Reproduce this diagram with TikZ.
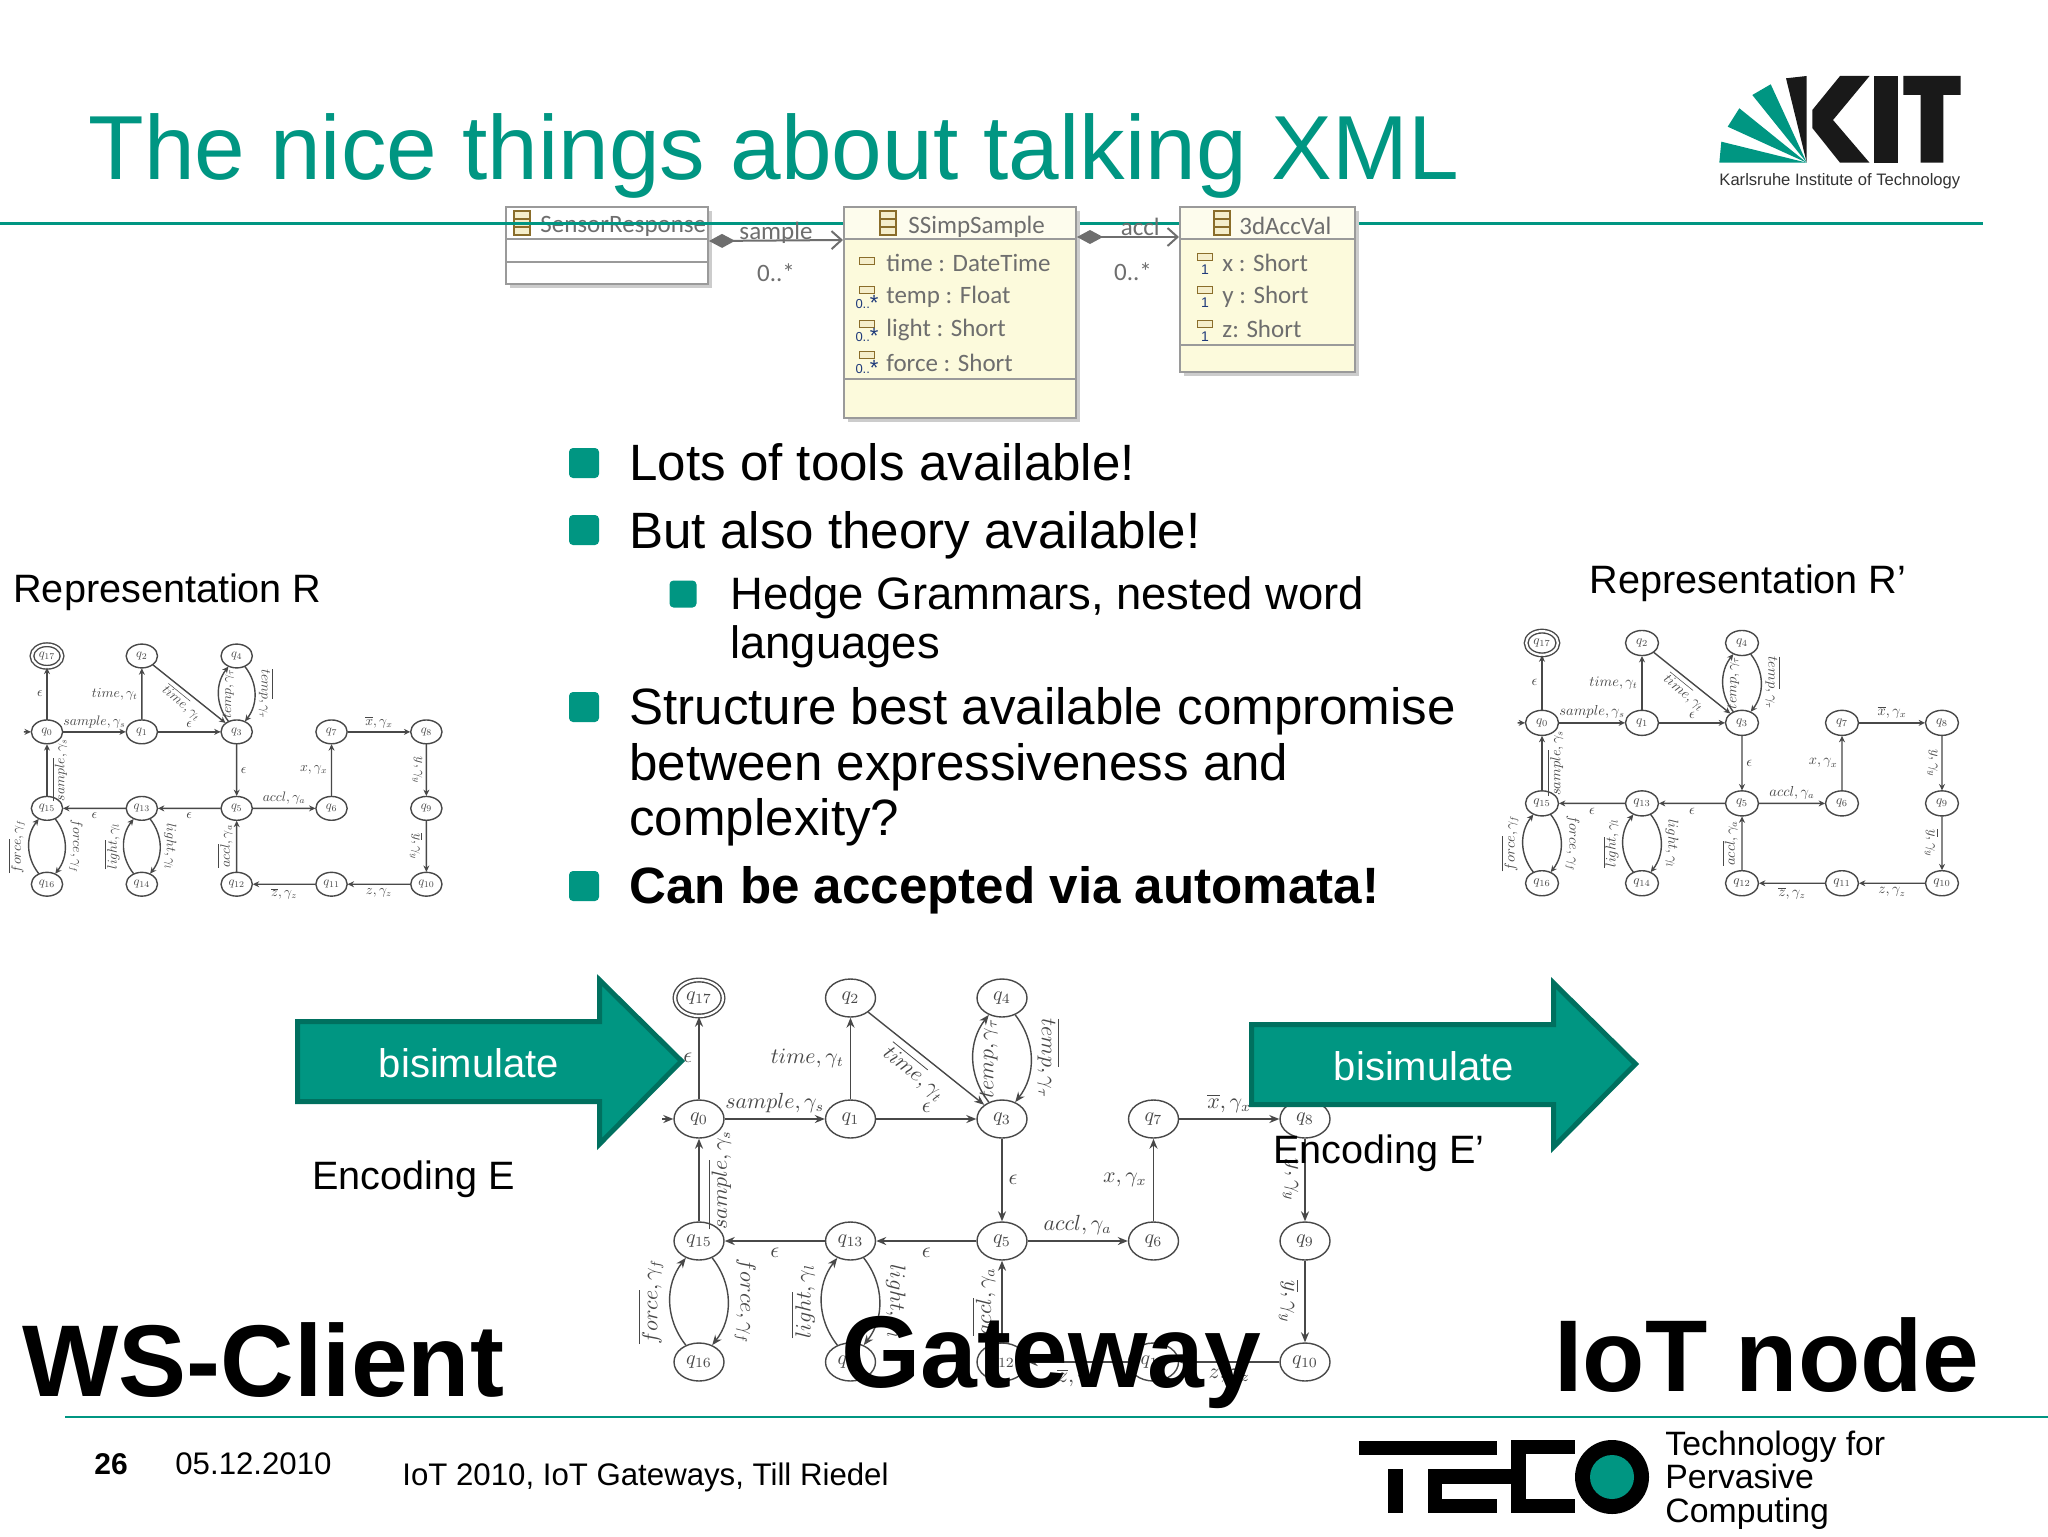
\documentclass[tikz,border=0pt]{standalone}
\usepackage[no-math]{fontspec}
\setmainfont{Liberation Sans}
\newfontfamily\umlfont{Carlito}
\usetikzlibrary{shapes.geometric,arrows.meta,shapes.misc}
\definecolor{kitgreen}{HTML}{009682}
\definecolor{kitdark}{HTML}{00705F}
\definecolor{autoink}{HTML}{484848}
\definecolor{umlink}{HTML}{6E6E6E}
\definecolor{umlborder}{HTML}{9A9A9A}
\definecolor{umlfill}{HTML}{FCFADC}
\definecolor{navyink}{HTML}{1F3A7A}
\definecolor{iconfill}{HTML}{F5EECB}
\definecolor{iconline}{HTML}{8A6D2A}
\newcommand{\fsz}[1]{\fontsize{#1}{#1}\selectfont}
\newcommand{\zerostar}{0..\raisebox{-1.2pt}{\fsz{11}*}}
\tikzset{
  txt/.style={anchor=base west,inner sep=0pt,text=black},
  bodytxt/.style={txt,font=\fsz{25.55}},
  subtxt/.style={txt,font=\fsz{22.7}},
  midtxt/.style={txt,font=\fsz{19.8}},
  bigtxt/.style={txt,font=\fsz{51}\bfseries},
  foot/.style={txt,font=\fsz{15.6}},
  bullet/.style={rectangle,rounded corners=2pt,fill=kitgreen,inner sep=0pt,minimum width=15pt,minimum height=15pt},
  subbullet/.style={rectangle,rounded corners=2pt,fill=kitgreen,inner sep=0pt,minimum width=13.5pt,minimum height=13.5pt},
  fatarrow/.style={fill=kitgreen,draw=kitdark,line width=2.5pt,miter limit=10},
  white label/.style={text=white,font=\fsz{20},inner sep=0pt},
  state/.style={ellipse,draw=autoink,line width=.7pt,minimum width=25pt,minimum height=19pt,inner sep=0pt,text=autoink,font=\fsz{10}},
  lbl/.style={text=autoink,font=\fsz{10.5},inner sep=3pt},
  umlclass/.style={rectangle,draw=umlborder,line width=1pt,inner sep=0pt},
  umlshadow/.style={fill=black!20,draw=none},
  umltext/.style={anchor=west,inner sep=0pt,text=umlink,font=\umlfont\fsz{12.5}},
  umlmult/.style={text=umlink,inner sep=0pt,font=\umlfont\fsz{12.5}},
  attricon/.style={rectangle,draw=iconline,fill=iconfill,line width=.6pt,minimum width=7.5pt,minimum height=3.8pt,inner sep=0pt},
  tinymult/.style={text=navyink,inner sep=0pt,font=\fsz{6.5}},
  compo/.style={draw=umlink,line width=1pt,{Diamond[length=13pt,width=7pt,fill=umlink]}-{Straight Barb[length=5pt,width=9pt]}},
}
\newcommand{\classicon}[3]{%
  \draw[draw=iconline,fill=iconfill,line width=.6pt] (#1,#2) rectangle ++(16,8);
  \draw[draw=iconline,fill=iconfill,line width=.6pt] (#1,#2+8) rectangle ++(16,8);
  \draw[draw=iconline,fill=iconfill,line width=.6pt] (#1,#2+16) rectangle ++(16,8);
}
% name prefix, x, y, xscale, yscale, tip length, tip width
\newcommand{\automaton}[7]{%
\begin{scope}[shift={(#2,#3)},xscale=#4,yscale=#5,transform shape,
    every edge/.style={draw=autoink,line width=.7pt,-{Stealth[length=#6,width=#7]}}]
  \node[state,double,double distance=1.1pt,minimum width=24pt,minimum height=18pt] (#1q17) at (0,0) {$q_{17}$};
  \node[state] (#1q2) at (151.5,0) {$q_{2}$};
  \node[state] (#1q4) at (303,0) {$q_{4}$};
  \node[state] (#1q0) at (0,121) {$q_{0}$};
  \node[state] (#1q1) at (151.5,121) {$q_{1}$};
  \node[state] (#1q3) at (303,121) {$q_{3}$};
  \node[state] (#1q7) at (454.5,121) {$q_{7}$};
  \node[state] (#1q8) at (606,121) {$q_{8}$};
  \node[state] (#1q15) at (0,243) {$q_{15}$};
  \node[state] (#1q13) at (151.5,243) {$q_{13}$};
  \node[state] (#1q5) at (303,243) {$q_{5}$};
  \node[state] (#1q6) at (454.5,243) {$q_{6}$};
  \node[state] (#1q9) at (606,243) {$q_{9}$};
  \node[state] (#1q16) at (0,364) {$q_{16}$};
  \node[state] (#1q14) at (151.5,364) {$q_{14}$};
  \node[state] (#1q12) at (303,364) {$q_{12}$};
  \node[state] (#1q11) at (454.5,364) {$q_{11}$};
  \node[state] (#1q10) at (606,364) {$q_{10}$};
  \coordinate (#1init) at (-37,121);
  \path (#1init) edge (#1q0)
    (#1q0) edge node[lbl,left] {$\epsilon$} (#1q17)
    (#1q0) edge node[lbl,above] {$sample,\gamma_s$} (#1q1)
    (#1q1) edge node[lbl,left] {$time,\gamma_t$} (#1q2)
    (#1q1) edge node[lbl,above] {$\epsilon$} (#1q3)
    (#1q2) edge node[lbl,rotate=-39,anchor=north] {$\overline{time},\gamma_t$} (#1q3)
    (#1q3) edge[bend left=38] node[lbl,rotate=90,anchor=north] {$temp,\gamma_\tau$} (#1q4)
    (#1q4) edge[bend left=38] node[lbl,rotate=-90,anchor=south] {$\overline{temp},\gamma_\tau$} (#1q3)
    (#1q3) edge node[lbl,right] {$\epsilon$} (#1q5)
    (#1q5) edge node[lbl,above] {$accl,\gamma_a$} (#1q6)
    (#1q6) edge node[lbl,left] {$x,\gamma_x$} (#1q7)
    (#1q7) edge node[lbl,above] {$\overline{x},\gamma_x$} (#1q8)
    (#1q8) edge node[lbl,rotate=-90,anchor=north] {$y,\gamma_y$} (#1q9)
    (#1q9) edge node[lbl,rotate=-90,anchor=north] {$\overline{y},\gamma_y$} (#1q10)
    (#1q10) edge node[lbl,below] {$z,\gamma_z$} (#1q11)
    (#1q11) edge node[lbl,below] {$\overline{z},\gamma_z$} (#1q12)
    (#1q12) edge node[lbl,rotate=90,anchor=south] {$\overline{accl},\gamma_a$} (#1q5)
    (#1q5) edge node[lbl,below] {$\epsilon$} (#1q13)
    (#1q13) edge node[lbl,below] {$\epsilon$} (#1q15)
    (#1q13) edge[bend left=38] node[lbl,rotate=-90,anchor=south] {$light,\gamma_l$} (#1q14)
    (#1q14) edge[bend left=38] node[lbl,rotate=90,anchor=south] {$\overline{light},\gamma_l$} (#1q13)
    (#1q15) edge node[lbl,rotate=90,anchor=north,inner sep=4pt] {$\overline{sample},\gamma_s$} (#1q0)
    (#1q15) edge[bend left=38] node[lbl,rotate=-90,anchor=south] {$force,\gamma_f$} (#1q16)
    (#1q16) edge[bend left=38] node[lbl,rotate=90,anchor=south] {$\overline{force},\gamma_f$} (#1q15);
\end{scope}}
\begin{document}
\begin{tikzpicture}[x=0.5pt,y=-0.5pt]
\useasboundingbox (0,0) rectangle (2048,1536);
\fill[white] (0,0) rectangle (2048,1536);

% automata
\automaton{l}{47}{656}{0.626}{0.627}{3.2pt}{3pt}
\automaton{r}{1542}{643}{0.66}{0.66}{3.2pt}{3pt}
\automaton{m}{699}{998}{1}{1}{5pt}{4pt}

% title and rules
\node[txt,text=kitgreen,font=\fsz{45.5}] (title) at (88,179) {The nice things about talking XML};

% UML: SensorResponse goes beneath the rule
\fill[umlshadow] (510,211) rectangle (712,288);
\node[umlclass,fill=white,minimum width=101pt,minimum height=38.5pt] (sr) at (607,245.5) {};
\draw[umlborder,line width=.8pt] (506,239) -- (708,239) (506,262) -- (708,262);
\classicon{514}{211}{}
\node[umltext,text=umlink] (srname) at (540,226) {SensorResponse};

\draw[kitgreen,line width=1.4pt] (0,223.5) -- (1983,223.5);
\draw[kitgreen,line width=1.4pt] (65,1417) -- (2048,1417);

\fill[umlshadow] (848,211) rectangle (1080,422);
\node[umlclass,fill=white,minimum width=116pt,minimum height=105.5pt] (ss) at (960,312.5) {};
\fill[white!50!umlfill] (844.5,207.5) rectangle (1075.5,239);
\fill[umlfill] (844.5,239) rectangle (1075.5,417.5);
\draw[umlborder,line width=.8pt] (844,239) -- (1076,239) (844,379) -- (1076,379);
\draw[umlborder,line width=1pt] (844,207) rectangle (1076,418);
\classicon{880}{211}{}
\node[umltext] (ssname) at (908,227) {SSimpSample};
\node[attricon] (a1) at (867,261) {};
\node[umltext] (ssa1) at (886,263) {time : DateTime};
\node[attricon] (a2) at (867,290) {};
\node[tinymult] (m2) at (867,303) {\zerostar};
\node[umltext] (ssa2) at (886,297) {temp : Float};
\node[attricon] (a3) at (867,324) {};
\node[tinymult] (m3) at (867,336) {\zerostar};
\node[umltext] (ssa3) at (886,330) {light : Short};
\node[attricon] (a4) at (867,355) {};
\node[tinymult] (m4) at (867,368) {\zerostar};
\node[umltext] (ssa4) at (886,363) {force : Short};

\fill[umlshadow] (1184,211) rectangle (1359,376);
\node[umlclass,fill=white,minimum width=87.5pt,minimum height=82.5pt] (ac) at (1267.5,289.5) {};
\fill[white!50!umlfill] (1180.5,207.5) rectangle (1354.5,239);
\fill[umlfill] (1180.5,239) rectangle (1354.5,371.5);
\draw[umlborder,line width=.8pt] (1180,239) -- (1355,239) (1180,345) -- (1355,345);
\draw[umlborder,line width=1pt] (1180,207) rectangle (1355,372);
\classicon{1214}{211}{}
\node[umltext] (acname) at (1239,226) {3dAccVal};
\node[attricon] (b1) at (1205,257) {};
\node[tinymult] (n1) at (1205,270) {\fsz{7}1};
\node[umltext] (aca1) at (1222,263) {x : Short};
\node[attricon] (b2) at (1205,290) {};
\node[tinymult] (n2) at (1205,303) {\fsz{7}1};
\node[umltext] (aca2) at (1222,297) {y : Short};
\node[attricon] (b3) at (1205,324) {};
\node[tinymult] (n3) at (1205,337) {\fsz{7}1};
\node[umltext] (aca3) at (1222,329) {z: Short};

\draw[compo] ([yshift=-17.5pt]sr.north east) -- node[umlmult,above=-2pt] (samplbl) {sample} ([yshift=-17pt]ss.north west);
\draw[compo] ([yshift=-15.5pt]ss.north east) -- node[umlmult,above=0pt,pos=.62] (accllbl) {accl} ([yshift=-15.5pt]ac.north west);
\node[umlmult] (card1) at (776,273) {0..*};
\node[umlmult] (card2) at (1133,272) {0..*};

% KIT logo
\fill[kitgreen] (1806.7,162.7) -- (1719.3,162.7) -- (1721.3,141.7) -- cycle;
\fill[kitgreen] (1806.7,162.7) -- (1727.7,126.7) -- (1739.3,108.3) -- cycle;
\fill[kitgreen] (1806.7,162.7) -- (1752.3,95) -- (1770.7,84.3) -- cycle;
\fill[black!90] (1806.7,162.7) -- (1786,78.3) -- (1806.7,76) -- cycle;
\fill[black!90] (1840,76) -- (1869.5,76) -- (1833,120) -- (1869.5,162.7) -- (1840,162.7) -- (1812.3,128) -- (1812.3,110) -- cycle;
\fill[black!90] (1874,76) rectangle (1898,162.7);
\fill[black!90] (1903.3,76) -- (1960.7,76) -- (1960.7,95) -- (1943.3,95) -- (1943.3,162.7) -- (1920.7,162.7) -- (1920.7,95) -- (1903.3,95) -- cycle;
\node[txt,text=black!80,font=\fsz{8.3}] (kittext) at (1719,185) {Karlsruhe Institute of Technology};

% bullets
\node[bullet] (bu1) at (584,463) {};
\node[bodytxt] (t1) at (629,480) {Lots of tools available!};
\node[bullet] (bu2) at (584,530) {};
\node[bodytxt] (t2) at (629,548) {But also theory available!};
\node[subbullet] (bu3) at (683,594) {};
\node[subtxt] (t3) at (730,609) {Hedge Grammars, nested word};
\node[subtxt] (t4) at (730,658) {languages};
\node[bullet] (bu4) at (584,707) {};
\node[bodytxt] (t5) at (629,724) {Structure best available compromise};
\node[bodytxt] (t6) at (629,780) {between expressiveness and};
\node[bodytxt] (t7) at (629,835) {complexity?};
\node[bullet] (bu5) at (584,886) {};
\node[bodytxt,font=\fsz{25.55}\bfseries] (t8) at (629,903) {Can be accepted via automata!};

\node[midtxt] (repr) at (13,602) {Representation R};
\node[midtxt] (reprp) at (1589,593) {Representation R’};

% fat arrows
\draw[fatarrow] (297.5,1021.5) -- (599.5,1021.5) -- (599.5,980) -- (681.5,1061) -- (599.5,1144) -- (599.5,1101.5) -- (297.5,1101.5) -- cycle;
\node[white label] (bis1) at (469,1063) {bisimulate};
\draw[fatarrow] (1251.5,1024.5) -- (1553.5,1024.5) -- (1553.5,983) -- (1635.5,1064) -- (1553.5,1147) -- (1553.5,1104.5) -- (1251.5,1104.5) -- cycle;
\node[white label] (bis2) at (1424,1066) {bisimulate};

\node[midtxt] (enc1) at (312,1189) {Encoding E};
\node[midtxt] (enc2) at (1273,1163) {Encoding E’};

\node[bigtxt] (ws) at (22,1396) {WS-Client};
\node[bigtxt] (gw) at (841,1387) {Gateway};
\node[bigtxt] (iot) at (1554,1391) {IoT node};

% footer
\node[txt,font=\fsz{15}\bfseries] (pg) at (94,1474) {26};
\node[foot] (date) at (175,1474) {05.12.2010};
\node[foot] (conf) at (402,1485) {IoT 2010, IoT Gateways, Till Riedel};

% TECO logo
\fill[black] (1359,1441) rectangle (1497,1455);
\fill[black] (1388,1469) rectangle (1403,1513);
\fill[black] (1428,1469) rectangle (1526,1484);
\fill[black] (1428,1469) rectangle (1442,1513);
\fill[black] (1428,1499) rectangle (1497,1513);
\fill[black] (1511,1440) rectangle (1575,1454);
\fill[black] (1511,1440) rectangle (1526,1513);
\fill[black] (1511,1499) rectangle (1575,1513);
\fill[black] (1612,1477) ellipse [x radius=37,y radius=37];
\fill[kitgreen] (1612,1477) ellipse [x radius=22,y radius=22];
\node[txt,font=\fsz{16.9}] (teco1) at (1665,1455) {Technology for};
\node[txt,font=\fsz{16.9}] (teco2) at (1665,1488) {Pervasive};
\node[txt,font=\fsz{16.9}] (teco3) at (1665,1522) {Computing};
\end{tikzpicture}
\end{document}
